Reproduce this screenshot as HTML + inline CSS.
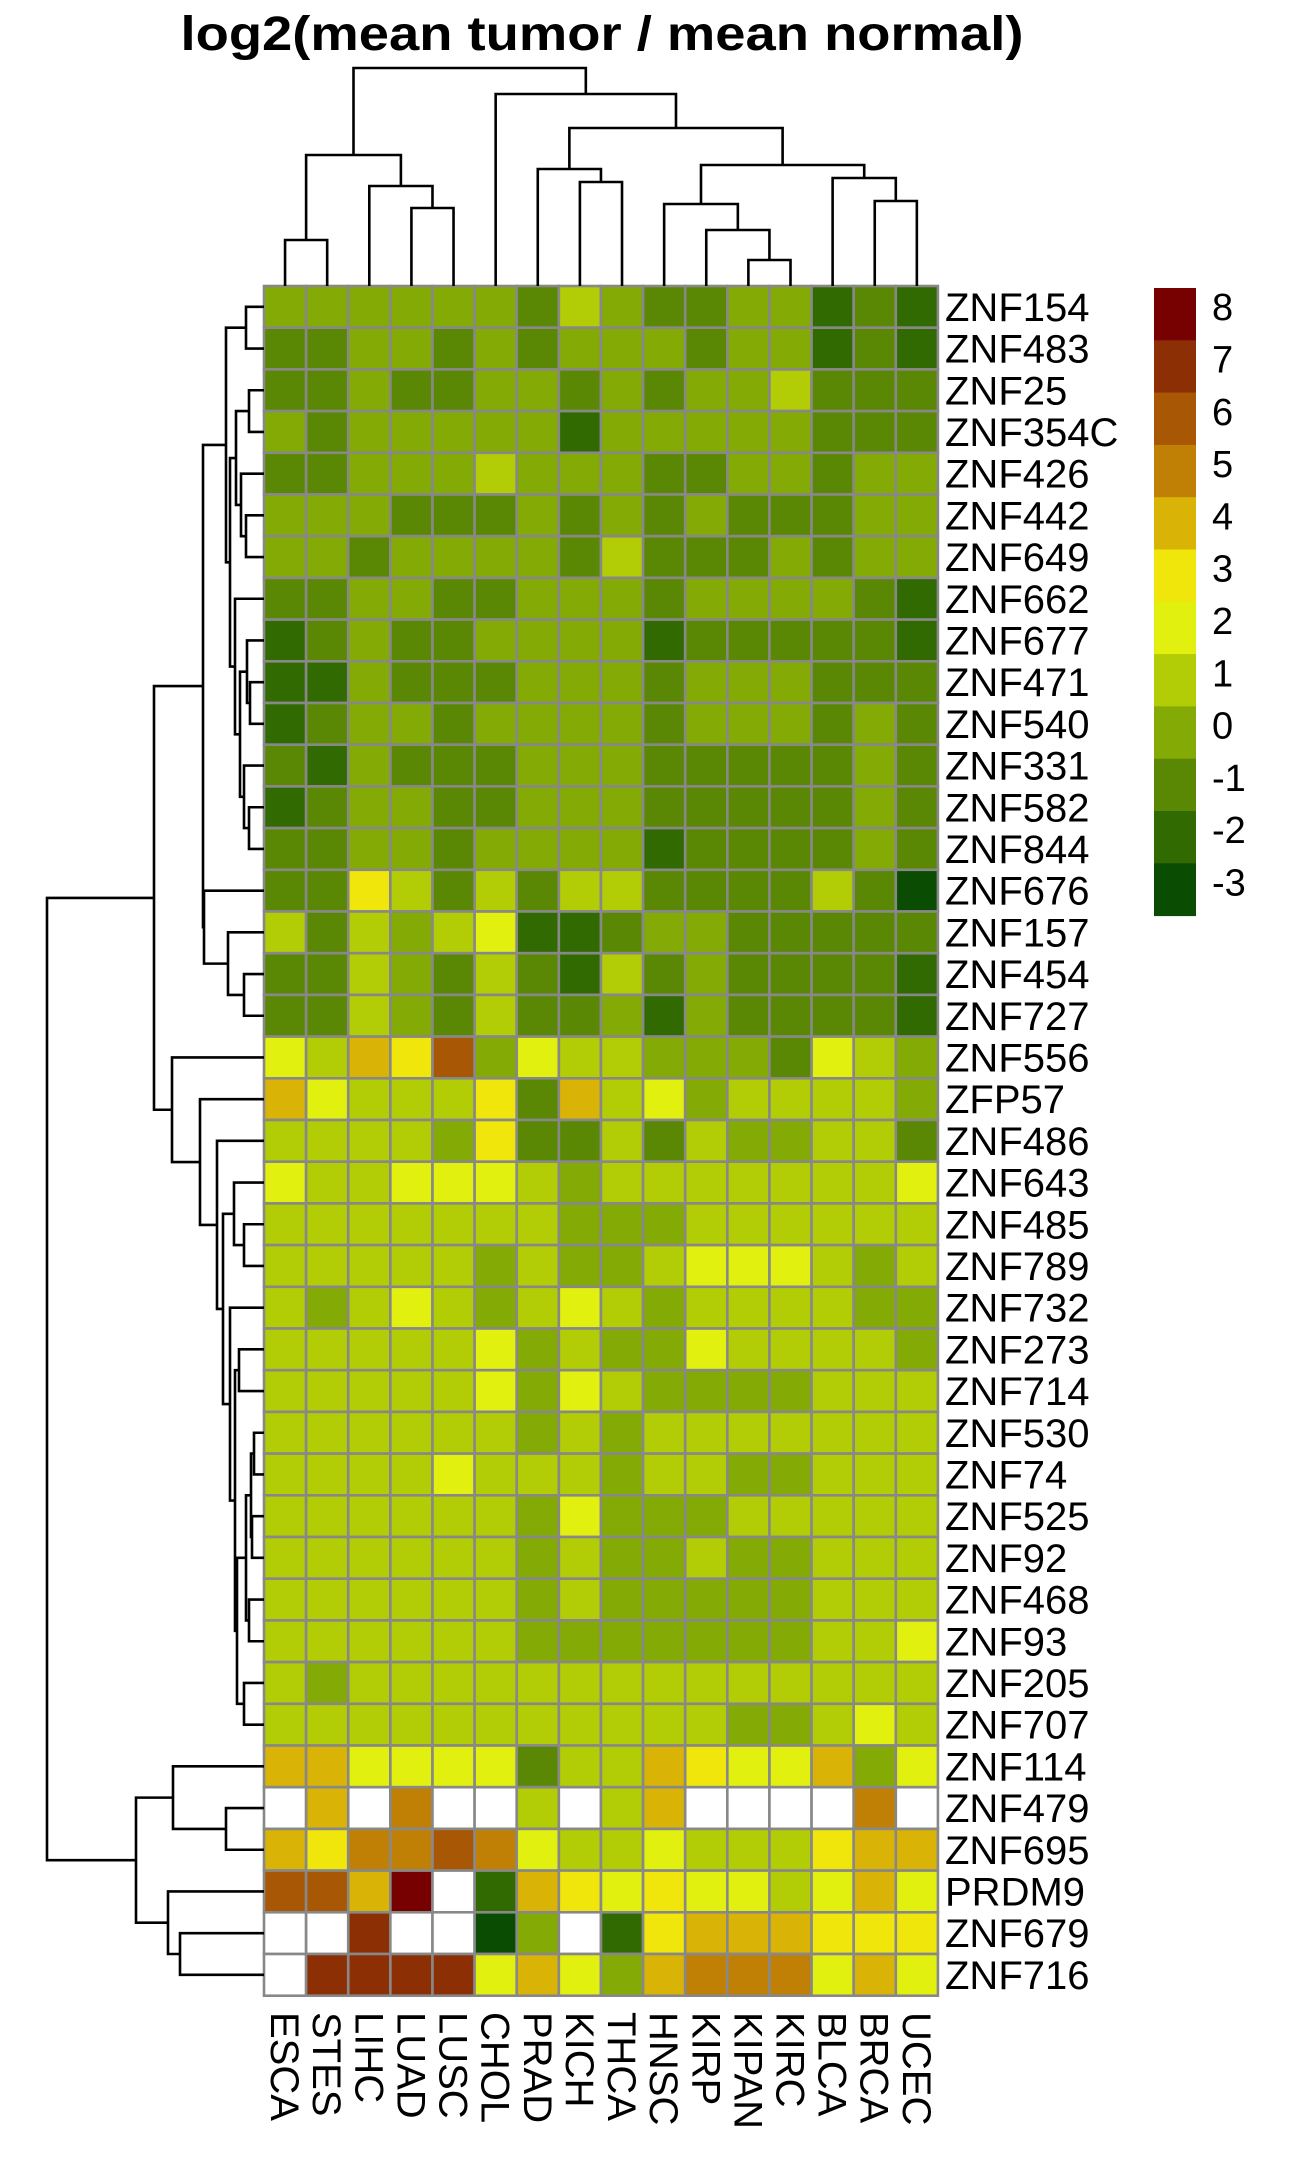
<!DOCTYPE html>
<html><head><meta charset="utf-8"><title>log2 heatmap</title>
<style>html,body{margin:0;padding:0;background:#fff;}svg{display:block;font-family:"Liberation Sans",Arial,sans-serif;}</style>
</head><body>
<svg id="chart" width="1309" height="2162" viewBox="0 0 1309 2162" xmlns="http://www.w3.org/2000/svg">
<text x="602" y="50" text-anchor="middle" font-size="48" font-weight="bold" textLength="843" lengthAdjust="spacingAndGlyphs">log2(mean tumor / mean normal)</text>
<g id="cells"></g>
<g id="rowlabels"></g>
<g id="collabels"></g>
<g id="coldend"></g>
<g id="rowdend"></g>
<g id="legend"></g>
</svg>
<script>
const columns = ["ESCA","STES","LIHC","LUAD","LUSC","CHOL","PRAD","KICH","THCA","HNSC","KIRP","KIPAN","KIRC","BLCA","BRCA","UCEC"];
const rowsNames = ["ZNF154","ZNF483","ZNF25","ZNF354C","ZNF426","ZNF442","ZNF649","ZNF662","ZNF677","ZNF471","ZNF540","ZNF331","ZNF582","ZNF844","ZNF676","ZNF157","ZNF454","ZNF727","ZNF556","ZFP57","ZNF486","ZNF643","ZNF485","ZNF789","ZNF732","ZNF273","ZNF714","ZNF530","ZNF74","ZNF525","ZNF92","ZNF468","ZNF93","ZNF205","ZNF707","ZNF114","ZNF479","ZNF695","PRDM9","ZNF679","ZNF716"];
const values = [
[-0.5,-0.5,-0.5,-0.5,-0.5,-0.5,-1.5,0.5,-0.5,-1.5,-1.5,-0.5,-0.5,-2.5,-1.5,-2.5],
[-1.5,-1.5,-0.5,-0.5,-1.5,-0.5,-1.5,-0.5,-0.5,-0.5,-1.5,-0.5,-0.5,-2.5,-1.5,-2.5],
[-1.5,-1.5,-0.5,-1.5,-1.5,-0.5,-0.5,-1.5,-0.5,-1.5,-0.5,-0.5,0.5,-1.5,-1.5,-1.5],
[-0.5,-1.5,-0.5,-0.5,-0.5,-0.5,-0.5,-2.5,-0.5,-0.5,-0.5,-0.5,-0.5,-1.5,-1.5,-1.5],
[-1.5,-1.5,-0.5,-0.5,-0.5,0.5,-0.5,-0.5,-0.5,-1.5,-1.5,-0.5,-0.5,-1.5,-0.5,-0.5],
[-0.5,-0.5,-0.5,-1.5,-1.5,-1.5,-0.5,-1.5,-0.5,-1.5,-0.5,-1.5,-1.5,-1.5,-0.5,-0.5],
[-0.5,-0.5,-1.5,-0.5,-0.5,-0.5,-0.5,-1.5,0.5,-1.5,-1.5,-1.5,-0.5,-1.5,-0.5,-0.5],
[-1.5,-1.5,-0.5,-0.5,-1.5,-1.5,-0.5,-0.5,-0.5,-1.5,-0.5,-0.5,-0.5,-0.5,-1.5,-2.5],
[-2.5,-1.5,-0.5,-1.5,-1.5,-0.5,-0.5,-0.5,-0.5,-2.5,-1.5,-1.5,-1.5,-1.5,-1.5,-2.5],
[-2.5,-2.5,-0.5,-1.5,-1.5,-1.5,-0.5,-0.5,-0.5,-1.5,-0.5,-0.5,-0.5,-1.5,-1.5,-1.5],
[-2.5,-1.5,-0.5,-0.5,-1.5,-0.5,-0.5,-0.5,-0.5,-1.5,-0.5,-0.5,-0.5,-1.5,-0.5,-1.5],
[-1.5,-2.5,-0.5,-1.5,-1.5,-1.5,-0.5,-0.5,-0.5,-1.5,-1.5,-1.5,-1.5,-1.5,-0.5,-1.5],
[-2.5,-1.5,-0.5,-0.5,-1.5,-1.5,-0.5,-0.5,-0.5,-1.5,-1.5,-1.5,-1.5,-1.5,-0.5,-1.5],
[-1.5,-1.5,-0.5,-0.5,-1.5,-0.5,-0.5,-0.5,-0.5,-2.5,-1.5,-1.5,-1.5,-1.5,-0.5,-1.5],
[-1.5,-1.5,2.5,0.5,-1.5,0.5,-1.5,0.5,0.5,-1.5,-1.5,-1.5,-1.5,0.5,-1.5,-3.5],
[0.5,-1.5,0.5,-0.5,0.5,1.5,-2.5,-2.5,-1.5,-0.5,-0.5,-1.5,-1.5,-1.5,-1.5,-1.5],
[-1.5,-1.5,0.5,-0.5,-1.5,0.5,-1.5,-2.5,0.5,-1.5,-0.5,-1.5,-1.5,-1.5,-1.5,-2.5],
[-1.5,-1.5,0.5,-0.5,-1.5,0.5,-1.5,-1.5,-0.5,-2.5,-0.5,-1.5,-1.5,-1.5,-1.5,-2.5],
[1.5,0.5,3.5,2.5,5.5,-0.5,1.5,0.5,0.5,-0.5,-0.5,-0.5,-1.5,1.5,0.5,-0.5],
[3.5,1.5,0.5,0.5,0.5,2.5,-1.5,3.5,0.5,1.5,-0.5,0.5,0.5,0.5,0.5,-0.5],
[0.5,0.5,0.5,0.5,-0.5,2.5,-1.5,-1.5,0.5,-1.5,0.5,-0.5,-0.5,0.5,0.5,-1.5],
[1.5,0.5,0.5,1.5,1.5,1.5,0.5,-0.5,0.5,0.5,0.5,0.5,0.5,0.5,0.5,1.5],
[0.5,0.5,0.5,0.5,0.5,0.5,0.5,-0.5,-0.5,-0.5,0.5,0.5,0.5,0.5,0.5,0.5],
[0.5,0.5,0.5,0.5,0.5,-0.5,0.5,-0.5,-0.5,0.5,1.5,1.5,1.5,0.5,-0.5,0.5],
[0.5,-0.5,0.5,1.5,0.5,-0.5,0.5,1.5,0.5,-0.5,0.5,0.5,0.5,0.5,-0.5,-0.5],
[0.5,0.5,0.5,0.5,0.5,1.5,-0.5,0.5,-0.5,-0.5,1.5,0.5,0.5,0.5,0.5,-0.5],
[0.5,0.5,0.5,0.5,0.5,1.5,-0.5,1.5,0.5,-0.5,-0.5,-0.5,-0.5,0.5,0.5,0.5],
[0.5,0.5,0.5,0.5,0.5,0.5,-0.5,0.5,-0.5,0.5,0.5,0.5,0.5,0.5,0.5,0.5],
[0.5,0.5,0.5,0.5,1.5,0.5,0.5,0.5,-0.5,0.5,0.5,-0.5,-0.5,0.5,0.5,0.5],
[0.5,0.5,0.5,0.5,0.5,0.5,-0.5,1.5,-0.5,-0.5,-0.5,0.5,0.5,0.5,0.5,0.5],
[0.5,0.5,0.5,0.5,0.5,0.5,-0.5,0.5,-0.5,-0.5,0.5,-0.5,-0.5,0.5,0.5,0.5],
[0.5,0.5,0.5,0.5,0.5,0.5,-0.5,0.5,-0.5,-0.5,-0.5,-0.5,-0.5,0.5,0.5,0.5],
[0.5,0.5,0.5,0.5,0.5,0.5,-0.5,-0.5,-0.5,-0.5,-0.5,-0.5,-0.5,0.5,0.5,1.5],
[0.5,-0.5,0.5,0.5,0.5,0.5,0.5,0.5,0.5,0.5,0.5,0.5,0.5,0.5,0.5,0.5],
[0.5,0.5,0.5,0.5,0.5,0.5,0.5,0.5,0.5,0.5,0.5,-0.5,-0.5,0.5,1.5,0.5],
[3.5,3.5,1.5,1.5,1.5,1.5,-1.5,0.5,0.5,3.5,2.5,1.5,1.5,3.5,-0.5,1.5],
[null,3.5,null,4.5,null,null,0.5,null,0.5,3.5,null,null,null,null,4.5,null],
[3.5,2.5,4.5,4.5,5.5,4.5,1.5,0.5,0.5,1.5,0.5,0.5,0.5,2.5,3.5,3.5],
[5.5,5.5,3.5,7.5,null,-2.5,3.5,2.5,1.5,2.5,1.5,1.5,0.5,1.5,3.5,1.5],
[null,null,6.5,null,null,-3.5,-0.5,null,-2.5,2.5,3.5,3.5,3.5,2.5,2.5,2.5],
[null,6.5,6.5,6.5,6.5,1.5,3.5,1.5,-0.5,3.5,4.5,4.5,4.5,1.5,3.5,1.5]
];
const legendTicks = [8,7,6,5,4,3,2,1,0,-1,-2,-3];
const colMerges = [[-1,-2,46],[-4,-5,78],[-3,2,100],[1,3,131],[-8,-9,104],[-7,5,117],[-12,-13,26],[-11,7,56],[-10,8,82],[-15,-16,85],[-14,10,108],[9,11,121],[6,12,158],[-6,13,192],[4,14,218]];
const rowMerges = [[-1,-2,18],[-3,-4,15],[-6,-7,18],[-5,3,23],[2,4,28],[-10,-11,14],[-9,6,17],[-13,-14,15],[-12,8,20],[7,9,24],[-8,10,29],[5,11,34],[1,12,38],[-17,-18,20],[-16,14,36],[-15,15,60],[13,16,61],[-23,-24,20],[-22,18,30],[-26,-27,25],[-28,-29,10],[-30,-31,12],[21,22,13],[-32,-33,15],[23,24,18],[-34,-35,20],[25,26,27],[20,27,29],[-25,28,34],[19,29,41],[-21,30,47],[-20,31,64],[-19,32,92],[17,33,110],[-37,-38,38],[-36,35,91],[-40,-41,84],[-39,37,96],[36,38,128],[34,39,217]];

const NS="http://www.w3.org/2000/svg";
const GX=264, GY=286, CW=42.12, RH=41.7;
const palette={"8":"#770000","7":"#8d2f04","6":"#a85705","5":"#c08005","4":"#d9b306","3":"#f0e60c","2":"#e2f00f","1":"#b2cc05","0":"#84aa05","-1":"#5a8804","-2":"#326a02","-3":"#0a4c02"};
function colorOf(v){ if(v===null||v===undefined||isNaN(v)) return "#ffffff"; let k=Math.ceil(v); k=Math.max(-3,Math.min(8,k)); return palette[String(k)]; }
function xOf(c){return GX+c*CW;}
function yOf(r){return GY+r*RH;}
function mk(tag,attrs,parent){const e=document.createElementNS(NS,tag);for(const k in attrs)e.setAttribute(k,attrs[k]);parent.appendChild(e);return e;}

const cells=document.getElementById('cells');
values.forEach((row,r)=>{row.forEach((v,c)=>{
  const el=mk('rect',{x:xOf(c),y:yOf(r),width:CW,height:RH,fill:colorOf(v),stroke:'#888888','stroke-width':2.6},cells);
  
  
});});

const rl=document.getElementById('rowlabels');
rowsNames.forEach((n,r)=>{
  const t=mk('text',{x:945,y:yOf(r)+RH/2+14,'font-size':40},rl);
  t.textContent=n;
  
  
});
const cl=document.getElementById('collabels');
columns.forEach((n,c)=>{
  const cx=xOf(c)+CW/2-14, y0=2012;
  const t=mk('text',{x:cx,y:y0,'font-size':40,transform:'rotate(90 '+cx+' '+y0+')'},cl);
  t.textContent=n;
  
  
});

function dendro(merges, leafPos, horizontal, g){
  const pos=[], ht=[];
  function info(id){ if(id<0) return [leafPos(-id-1),0]; return [pos[id-1],ht[id-1]]; }
  merges.forEach((m,i)=>{
    const [pa,ha]=info(m[0]), [pb,hb]=info(m[1]), h=m[2];
    let d;
    if(horizontal){
      const base=GY;
      d='M'+pa+' '+(base-ha)+'V'+(base-h)+'H'+pb+'V'+(base-hb);
    } else {
      const base=GX;
      d='M'+(base-ha)+' '+pa+'H'+(base-h)+'V'+pb+'H'+(base-hb);
    }
    const p=mk('path',{d:d,fill:'none',stroke:'#000','stroke-width':2.6},g);
    
    
    pos.push((pa+pb)/2); ht.push(h);
  });
}
dendro(colMerges,i=>xOf(i)+CW/2,true,document.getElementById('coldend'));
dendro(rowMerges,i=>yOf(i)+RH/2,false,document.getElementById('rowdend'));

const lg=document.getElementById('legend');
const LX=1154, LY=288, LW=42, LH=52.3;
legendTicks.forEach((t,i)=>{
  const r=mk('rect',{x:LX,y:LY+i*LH,width:LW,height:LH+0.5,fill:palette[String(t)]},lg);
  
  
  const tx=mk('text',{x:1212,y:LY+i*LH+LH/2+6,'font-size':38},lg);
  tx.textContent=String(t);
  
  
});
</script>
</body></html>
